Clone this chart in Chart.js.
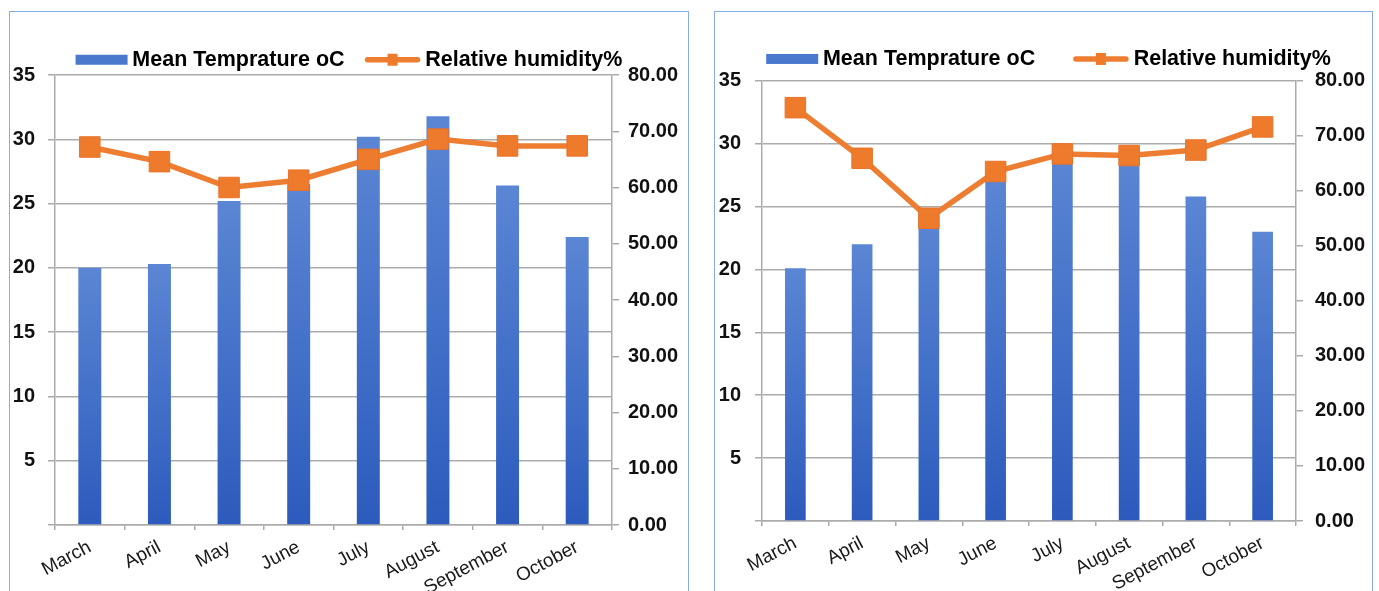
<!DOCTYPE html>
<html>
<head>
<meta charset="utf-8">
<script src="https://cdn.jsdelivr.net/npm/chart.js@4/dist/chart.umd.min.js"></script>
<style>
  html, body { margin: 0; padding: 0; background: #fff; overflow: hidden; }
  body { position: relative; width: 1379px; height: 591px; }
  .frame { position: absolute; top: 11px; height: 600px; border: 1.5px solid #86aaea; box-sizing: border-box; }
  .holder { position: absolute; top: 12px; }
</style>
</head>
<body>
<div class="frame" style="left:9px; width:680px;"></div>
<div class="frame" style="left:714px; width:659px;"></div>
<div class="holder" style="left:10px;"><canvas id="chartA" width="678" height="588"></canvas></div>
<div class="holder" style="left:716px;"><canvas id="chartB" width="655" height="588"></canvas></div>
<script>
// months on the x axis
const months = ["March", "April", "May", "June", "July", "August", "September", "October"];

// left chart
const tempA = [20.0, 20.3, 25.2, 26.5, 30.2, 31.8, 26.4, 22.4];
const humidityA = [67.2, 64.6, 60.0, 61.3, 65.0, 68.6, 67.4, 67.4];

// right chart
const tempB = [20.1, 22.0, 24.2, 27.5, 29.3, 29.1, 25.8, 23.0];
const humidityB = [75.1, 65.9, 55.0, 63.5, 66.7, 66.4, 67.4, 71.6];

const tempLabel = "Mean Temprature oC";
const humidityLabel = "Relative humidity%";

const BLUE = "#4a78cc";
const ORANGE = "#ED7D31";
const GRID = "#ababab";
const FONT = "'Liberation Sans', Arial, sans-serif";

// bar fill: lighter at the top of each bar, darker at the base
function barGradient(context) {
  const chart = context.chart;
  const y = chart.scales.y;
  if (!y || context.raw == null) return BLUE;
  const top = y.getPixelForValue(context.raw);
  const bottom = y.getPixelForValue(0);
  const g = chart.ctx.createLinearGradient(0, top, 0, bottom);
  g.addColorStop(0, "#5b86d4");
  g.addColorStop(1, "#2c5bbd");
  return g;
}

// legend tweaks: fixed legend height, nudge, and the two symbols
const legendSymbols = {
  id: "legendSymbols",
  beforeLayout(chart, args, opts) {
    const lg = chart.legend;
    if (!lg || lg._patched) return;
    const fit = lg.fit;
    lg.fit = function () {
      fit.call(this);
      this.height += opts.extra || 0;
    };
    lg._patched = true;
  },
  afterLayout(chart, args, opts) {
    const lg = chart.legend;
    if (!lg) return;
    lg.top += opts.shift || 0;
    lg.bottom += opts.shift || 0;
    lg.left += opts.shiftX || 0;
    lg.right += opts.shiftX || 0;
  },
  afterDraw(chart) {
    const lg = chart.legend;
    if (!lg || !lg.legendHitBoxes.length) return;
    const size = lg.options.labels.font.size;
    const ctx = chart.ctx;
    ctx.save();
    // temperature: plain blue bar
    const a = lg.legendHitBoxes[0];
    ctx.fillStyle = BLUE;
    ctx.fillRect(a.left, a.top + size / 2 - 5, 52, 10);
    // humidity: line with a square marker
    const b = lg.legendHitBoxes[1];
    const cy = b.top + size / 2;
    ctx.strokeStyle = ORANGE;
    ctx.lineWidth = 5.5;
    ctx.lineCap = "round";
    ctx.beginPath();
    ctx.moveTo(b.left - 1, cy);
    ctx.lineTo(b.left + 49, cy);
    ctx.stroke();
    ctx.fillStyle = "#EE7A2C";
    ctx.fillRect(b.left + 24 - 5, cy - 6, 10, 12);
    ctx.restore();
  },
};

function makeChart(canvasId, temps, hums, geo) {
  const ctx = document.getElementById(canvasId).getContext("2d");
  return new Chart(ctx, {
    type: "bar",
    data: {
      labels: months,
      datasets: [
        {
          type: "bar",
          label: tempLabel,
          data: temps,
          yAxisID: "y",
          backgroundColor: barGradient,
          borderWidth: 0,
          categoryPercentage: 1,
          barPercentage: geo.barPct,
          order: 1,
        },
        {
          type: "line",
          label: humidityLabel,
          data: hums,
          yAxisID: "y1",
          borderColor: ORANGE,
          borderWidth: 5.5,
          pointStyle: "rect",
          pointRadius: 14.5,
          pointHoverRadius: 14.5,
          pointBackgroundColor: "#EE7A2C",
          pointBorderColor: "#E8732A",
          pointBorderWidth: 1,
          tension: 0,
          order: 0,
        },
      ],
    },
    options: {
      responsive: false,
      animation: false,
      layout: { padding: 0 },
      plugins: {
        tooltip: { enabled: false },
        legendSymbols: { extra: geo.legendExtra, shift: geo.legendShift, shiftX: geo.legendShiftX },
        legend: {
          position: "top",
          labels: {
            boxWidth: 46,
            boxHeight: 10,
            padding: geo.legendPad,
            color: "#111",
            font: { family: FONT, size: 21.5, weight: "bold" },
            generateLabels: () => [
              { text: tempLabel, fillStyle: "rgba(0,0,0,0)", strokeStyle: "rgba(0,0,0,0)", lineWidth: 0, datasetIndex: 0, hidden: false },
              { text: humidityLabel, fillStyle: "rgba(0,0,0,0)", strokeStyle: "rgba(0,0,0,0)", lineWidth: 0, datasetIndex: 1, hidden: false },
            ],
          },
        },
      },
      scales: {
        x: {
          grid: { drawOnChartArea: false, color: GRID, lineWidth: 1.5, tickLength: 5, offset: true },
          border: { display: true, color: GRID, width: 1.5 },
          ticks: {
            autoSkip: false,
            minRotation: 28,
            maxRotation: 28,
            padding: 6,
            color: "#1a1a1a",
            font: { family: FONT, size: 19 },
          },
          afterFit: (s) => { s.height = geo.xHeight; },
        },
        y: {
          position: "left",
          min: 0,
          max: 35,
          grid: { color: GRID, lineWidth: 1.5, tickLength: 7 },
          border: { display: true, color: GRID, width: 1.5 },
          ticks: {
            stepSize: 5,
            padding: geo.yPad,
            color: "#111",
            font: { family: FONT, size: 20, weight: "bold" },
            callback: (v) => (v === 0 ? "" : v),
          },
          afterFit: (s) => { s.width = geo.yWidth; },
        },
        y1: {
          position: "right",
          min: 0,
          max: 80,
          grid: { drawOnChartArea: false, color: GRID, lineWidth: 1.5, tickLength: 7 },
          border: { display: true, color: GRID, width: 1.5 },
          ticks: {
            stepSize: 10,
            padding: geo.y1Pad,
            color: "#111",
            font: { family: FONT, size: 20, weight: "bold" },
            callback: (v) => Number(v).toFixed(2),
          },
          afterFit: (s) => { s.width = geo.y1Width; },
        },
      },
    },
    plugins: [legendSymbols],
  });
}

makeChart("chartA", tempA, humidityA, {
  legendPad: 24, legendExtra: 7.5, legendShift: 13, legendShiftX: 0,
  xHeight: 75, yWidth: 45, y1Width: 76, yPad: 13, y1Pad: 9, barPct: 0.33,
});
makeChart("chartB", tempB, humidityB, {
  legendPad: 41.7, legendExtra: -4.5, legendShift: -5.5, legendShiftX: 5,
  xHeight: 79, yWidth: 46, y1Width: 75, yPad: 14, y1Pad: 12, barPct: 0.31,
});
</script>
</body>
</html>
